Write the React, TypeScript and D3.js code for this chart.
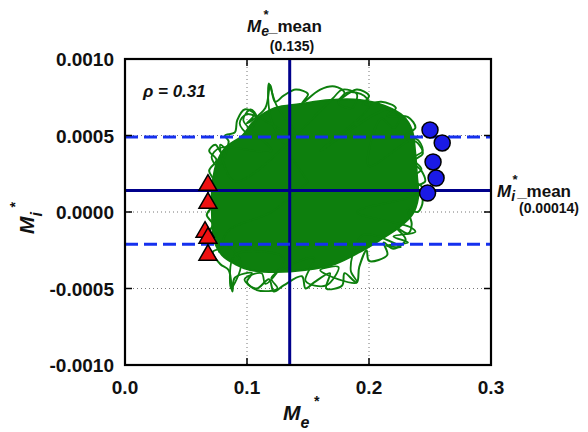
import React from "react";
import * as d3 from "d3";

const xTicks = [0.0, 0.1, 0.2, 0.3];
const xTickLabels = ["0.0", "0.1", "0.2", "0.3"];
const yTicks = [-0.001, -0.0005, 0, 0.0005, 0.001];
const yTickLabels = ["-0.0010", "-0.0005", "0.0000", "0.0005", "0.0010"];

const meMean = 0.135;
const miMean = 0.00014;
const miUpper = 0.00049;
const miLower = -0.00021;

// dense core of the trajectory cloud (outline)
const cloudCore: [number, number][] = [
  [0.0746, 0.000307], [0.082, 0.000418], [0.0959, 0.000497], [0.1066, 0.000601], [0.123, 0.00068],
  [0.1434, 0.000706], [0.168, 0.000732], [0.1926, 0.000732], [0.2131, 0.000693], [0.2279, 0.000627],
  [0.2352, 0.000536], [0.2377, 0.000405], [0.2393, 0.000242], [0.2402, 0.0000915], [0.2352, -0.00002],
  [0.2238, -0.000105], [0.209, -0.000183], [0.1926, -0.000261], [0.1721, -0.00034], [0.1475, -0.000379],
  [0.123, -0.000392], [0.1025, -0.000379], [0.0902, -0.00034], [0.0795, -0.000281], [0.073, -0.000183],
  [0.0713, -0.00002], [0.0713, 0.000144],
];

// loops of the trajectory along the edge of the cloud
const edgeLoops: [number, number][] = [
  [0.075, 0.00034], [0.069, 0.0004], [0.074, 0.00044], [0.08, 0.00038],
  [0.085, 0.00046], [0.082, 0.0005], [0.09, 0.00052],
  [0.092, 0.0006], [0.098, 0.00067], [0.106, 0.00064], [0.1, 0.00058],
  [0.115, 0.00068], [0.119, 0.00083], [0.123, 0.00072],
  [0.13, 0.00076], [0.14, 0.0008], [0.15, 0.00077], [0.145, 0.00071],
  [0.16, 0.0008], [0.172, 0.00082], [0.18, 0.00078], [0.175, 0.00073],
  [0.19, 0.0008], [0.2, 0.00076], [0.195, 0.0007],
  [0.21, 0.00072], [0.222, 0.00068], [0.215, 0.00063],
  [0.232, 0.00062], [0.238, 0.00055], [0.23, 0.0005],
  [0.24, 0.00045], [0.244, 0.00038], [0.236, 0.00033],
  [0.243, 0.00027], [0.246, 0.0002], [0.238, 0.00016],
  [0.244, 0.00008], [0.24, 0.0], [0.232, 0.00002],
  [0.235, -0.00008], [0.232, -0.00014], [0.222, -0.0001],
  [0.23, -0.00018], [0.22, -0.00024], [0.212, -0.0002],
  [0.215, -0.00028], [0.2, -0.00032], [0.198, -0.00025],
  [0.192, -0.00036], [0.19, -0.00046], [0.18, -0.0004],
  [0.178, -0.00048], [0.165, -0.0005], [0.168, -0.0004],
  [0.155, -0.00046], [0.148, -0.0005], [0.145, -0.00042],
  [0.13, -0.00048], [0.122, -0.00052], [0.118, -0.00044],
  [0.108, -0.0005], [0.1, -0.00046], [0.104, -0.0004],
  [0.09, -0.00043], [0.088, -0.00052], [0.085, -0.00038],
  [0.078, -0.00034], [0.072, -0.00026], [0.08, -0.00023],
  [0.068, -0.00015], [0.072, -0.00008], [0.067, -0.00002], [0.072, 0.00005],
  [0.068, 0.00012], [0.073, 0.0002], [0.069, 0.00027],
];

// excursions from the interior towards the edge
const trajectory: [number, number][] = [
  [0.15, 0.0002], [0.12, 0.0006], [0.118, 0.00084], [0.124, 0.0007], [0.14, 0.0005],
  [0.10, 0.00064], [0.094, 0.00058], [0.1, 0.00052], [0.108, 0.00062], [0.103, 0.00067], [0.097, 0.0006], [0.12, 0.0004],
  [0.078, 0.00042], [0.071, 0.00036], [0.076, 0.0003], [0.083, 0.0004], [0.078, 0.00044], [0.09, 0.0002],
  [0.17, 0.00074], [0.178, 0.0008], [0.19, 0.00077], [0.186, 0.00068], [0.175, 0.00071], [0.182, 0.00078],
  [0.196, 0.00076], [0.2, 0.00069], [0.16, 0.0004],
  [0.215, 0.00067], [0.225, 0.00061], [0.22, 0.00055], [0.21, 0.00061], [0.2, 0.0003],
  [0.238, 0.00048], [0.244, 0.0004], [0.236, 0.00035], [0.243, 0.00028], [0.235, 0.00022], [0.245, 0.00015],
  [0.235, 0.0001], [0.19, 0.0],
  [0.234, -0.0001], [0.238, -0.00013], [0.22, -0.00016], [0.232, -0.0002], [0.214, -0.00022], [0.226, -0.00023], [0.195, -0.00015],
  [0.185, -0.00038], [0.19, -0.00046], [0.175, -0.00044], [0.16, -0.00038], [0.175, -0.00036], [0.165, -0.00048],
  [0.148, -0.00045], [0.155, -0.0003],
  [0.12, -0.00043], [0.125, -0.0005], [0.108, -0.00051], [0.098, -0.00044], [0.112, -0.0004], [0.115, -0.00047], [0.13, -0.0003],
  [0.09, -0.00028], [0.087, -0.0005], [0.095, -0.00033], [0.08, -0.0002], [0.077, -0.00026], [0.085, -0.00012], [0.12, 0.0],
  [0.15, 0.0002],
];

const triangleX = [0.068, 0.068, 0.0656, 0.068, 0.068];
const triangleY = [0.000176, 0.000059, -0.000131, -0.00017, -0.000281];
const circleX = [0.25, 0.26, 0.2525, 0.255, 0.248];
const circleY = [0.000536, 0.000451, 0.000327, 0.000222, 0.000124];

const W = 588, H = 432;
const L = 125, R = 491, T = 59, B = 365;

export default function App() {
  const x = d3.scaleLinear().domain([0, 0.3]).range([L, R]);
  const y = d3.scaleLinear().domain([-0.001, 0.001]).range([B, T]);
  const area = d3.line<[number, number]>().x(d => x(d[0])).y(d => y(d[1])).curve(d3.curveCatmullRomClosed);
  const traj = d3.line<[number, number]>().x(d => x(d[0])).y(d => y(d[1])).curve(d3.curveCatmullRom);
  const tri = d3.symbol().type(d3.symbolTriangle).size(140)();
  const font = "Liberation Sans, Arial, sans-serif";
  const green = "#0d7f0d";
  const navy = "#00008b";
  const blue = "#1530ee";

  return (
    <svg width={W} height={H} style={{ position: "absolute", left: 0, top: 0, background: "#fff" }} fontFamily={font}>
      <rect x={0} y={0} width={W} height={H} fill="#fff" />
      <defs>
        <clipPath id="plot"><rect x={L} y={T} width={R - L} height={B - T} /></clipPath>
      </defs>
      {/* grid */}
      {xTicks.filter(v => v > 0 && v < 0.3).map(v => (
        <line key={"gx" + v} x1={x(v)} x2={x(v)} y1={T} y2={B} stroke="#777" strokeWidth={1} strokeDasharray="1,3" />
      ))}
      {yTicks.filter(v => v > -0.001 && v < 0.001).map(v => (
        <line key={"gy" + v} x1={L} x2={R} y1={y(v)} y2={y(v)} stroke="#777" strokeWidth={1} strokeDasharray="1,3" />
      ))}
      <g clipPath="url(#plot)">
        <path d={area(cloudCore) || ""} fill={green} stroke={green} strokeWidth={2} />
        <path d={area(edgeLoops) || ""} fill="none" stroke={green} strokeWidth={2} />
        <path d={traj(trajectory) || ""} fill="none" stroke={green} strokeWidth={1.8} />
        <line x1={x(meMean)} x2={x(meMean)} y1={T} y2={B} stroke={navy} strokeWidth={3} />
        <line x1={L} x2={R} y1={y(miMean)} y2={y(miMean)} stroke={navy} strokeWidth={3} />
        <line x1={L} x2={R} y1={y(miUpper)} y2={y(miUpper)} stroke={blue} strokeWidth={3} strokeDasharray="13,6" />
        <line x1={L} x2={R} y1={y(miLower)} y2={y(miLower)} stroke={blue} strokeWidth={3} strokeDasharray="13,6" />
      </g>
      {triangleX.map((v, i) => (
        <path key={"t" + i} d={tri || ""} transform={`translate(${x(v)},${y(triangleY[i])})`} fill="#ee1111" stroke="#000" strokeWidth={1.5} />
      ))}
      {circleX.map((v, i) => (
        <circle key={"c" + i} cx={x(v)} cy={y(circleY[i])} r={8} fill="#1a1ae6" stroke="#000" strokeWidth={1.5} />
      ))}
      {/* ticks */}
      {xTicks.filter(v => v > 0 && v < 0.3).map(v => (
        <g key={"tx" + v}>
          <line x1={x(v)} x2={x(v)} y1={B} y2={B - 7} stroke="#000" strokeWidth={1.5} />
          <line x1={x(v)} x2={x(v)} y1={T} y2={T + 7} stroke="#000" strokeWidth={1.5} />
        </g>
      ))}
      {yTicks.filter(v => v > -0.001 && v < 0.001).map(v => (
        <g key={"ty" + v}>
          <line x1={L} x2={L + 7} y1={y(v)} y2={y(v)} stroke="#000" strokeWidth={1.5} />
          <line x1={R} x2={R - 7} y1={y(v)} y2={y(v)} stroke="#000" strokeWidth={1.5} />
        </g>
      ))}
      <rect x={L} y={T} width={R - L} height={B - T} fill="none" stroke="#000" strokeWidth={2.2} />
      {/* tick labels */}
      {xTicks.map((v, i) => (
        <text key={"lx" + v} x={x(v)} y={B + 29} textAnchor="middle" fontSize={19} fontWeight="bold" fill="#111">{xTickLabels[i]}</text>
      ))}
      {yTicks.map((v, i) => (
        <text key={"ly" + v} x={L - 11} y={y(v) + 7} textAnchor="end" fontSize={19} fontWeight="bold" fill="#111">{yTickLabels[i]}</text>
      ))}
      {/* rho */}
      <text x={143} y={97} fontSize={17} fontWeight="bold" fontStyle="italic" fill="#111">ρ = 0.31</text>
      {/* top label */}
      <text x={247} y={32} fontSize={17} fontWeight="bold" fontStyle="italic" fill="#111">
        M<tspan fontSize={14} dy={4}>e</tspan><tspan fontSize={13} dy={-17} dx={-6}>*</tspan><tspan dy={13} fontStyle="normal">_mean</tspan>
      </text>
      <text x={292} y={51} textAnchor="middle" fontSize={14} fontWeight="bold" fill="#111">(0.135)</text>
      {/* right label */}
      <text x={497} y={197} fontSize={17} fontWeight="bold" fontStyle="italic" fill="#111">
        M<tspan fontSize={14} dy={4}>i</tspan><tspan fontSize={13} dy={-17} dx={-3}>*</tspan><tspan dy={13} fontStyle="normal">_mean</tspan>
      </text>
      <text x={549} y={213} textAnchor="middle" fontSize={14} fontWeight="bold" fill="#111">(0.00014)</text>
      {/* x axis label */}
      <text x={283} y={420} fontSize={21} fontWeight="bold" fontStyle="italic" fill="#111">
        M<tspan fontSize={16} dy={8}>e</tspan><tspan fontSize={14} dy={-22} dx={4}>*</tspan>
      </text>
      {/* y axis label */}
      <text transform="translate(34,234) rotate(-90)" fontSize={21} fontWeight="bold" fontStyle="italic" fill="#111">
        M<tspan fontSize={16} dy={8}>i</tspan><tspan fontSize={14} dy={-22} dx={4}>*</tspan>
      </text>
    </svg>
  );
}
